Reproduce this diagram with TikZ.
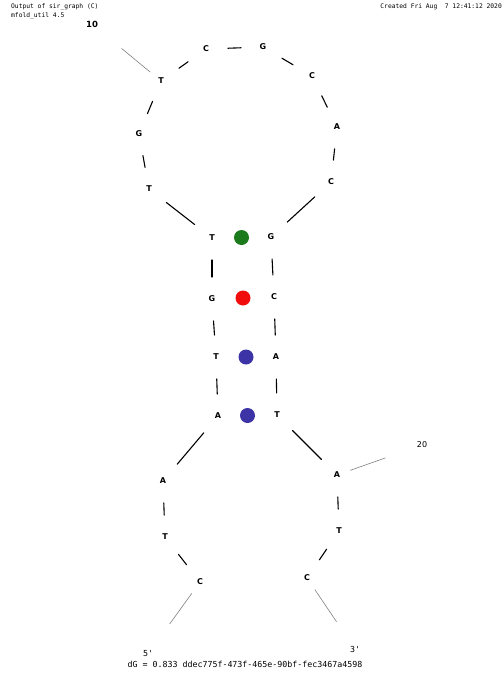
\documentclass[tikz,border=0pt]{standalone}
\usepackage{fontspec}
\setmainfont{DejaVu Sans}
\newfontfamily\monofont{DejaVu Sans Mono}
\usepackage{tikz}
\usepackage{tkz-euclide}
\usepackage{xcolor}
\usetikzlibrary{calc}

\definecolor{gtpair}{HTML}{1B7A1B}
\definecolor{gcpair}{HTML}{F20D0D}
\definecolor{atpair}{HTML}{3C33A6}

\begin{document}
\begin{tikzpicture}[x=1pt,y=-1pt,
    base/.style={font=\fontsize{8}{9}\selectfont\bfseries,inner sep=0pt},
    pairdot/.style={circle,minimum size=15pt,inner sep=0pt},
    tick/.style={gray,line width=0.6pt,shorten <=14pt,shorten >=33pt},
    ticklabel/.style={font=\fontsize{8}{9}\selectfont,inner sep=0pt},
    endlabel/.style={font=\monofont\fontsize{8.3}{9}\selectfont,inner sep=0pt},
    head/.style={font=\monofont\fontsize{6.3}{7}\selectfont,inner sep=0pt}]
    \useasboundingbox (0,0) rectangle (503,683);
    \tkzDefPoints{200/582/n1,165/537/n2,163/481/n3,218/416/n4,216/357/n5,
      212/299/n6,212/238/n7,149/189/n8,139/134/n9,161/81/n10,206/49/n11,
      263/47/n12,312/76/n13,337/127/n14,331/182/n15,271/237/n16,274/297/n17,
      276/357/n18,277/415/n19,337/475/n20,339/531/n21,307/578/n22}
    % backbone
    \tkzDrawSegments[black,line width=1.1pt,shorten <=22pt,shorten >=22pt](n1,n2 n2,n3 n3,n4 n4,n5 n5,n6 n6,n7 n7,n8 n8,n9 n9,n10 n10,n11 n11,n12)
    \tkzDrawSegments[black,line width=1.1pt,shorten <=22pt,shorten >=22pt](n12,n13 n13,n14 n14,n15 n15,n16 n16,n17 n17,n18 n18,n19 n19,n20 n20,n21 n21,n22)
    \foreach \i/\b in {1/C,2/T,3/A,4/A,5/T,6/G,7/T,8/T,9/G,10/T,11/C,
      12/G,13/C,14/A,15/C,16/G,17/C,18/A,19/T,20/A,21/T,22/C}
      \node[base] (b\i) at (n\i) {\b};
    % base pairs
    \node[pairdot,fill=gtpair] (bp7) at ($(n7)!0.5!(n16)$) {};
    \node[pairdot,fill=gcpair] (bp6) at ($(n6)!0.5!(n17)$) {};
    \node[pairdot,fill=atpair] (bp5) at ($(n5)!0.5!(n18)$) {};
    \node[pairdot,fill=atpair] (bp4) at ($(n4)!0.5!(n19)$) {};
    % numbering and ends
    \node[ticklabel,font=\fontsize{8.5}{9}\selectfont\bfseries] (lab10) at (92,24) {10};
    \node[ticklabel] (lab20) at (422,445) {20};
    \node[endlabel] (lab5) at (148,654) {5'};
    \node[endlabel] (lab3) at (355,649) {3'};
    \draw[tick] (n10) -- (lab10);
    \draw[tick] (n20) -- (lab20);
    \draw[tick] (n1) -- (lab5);
    \draw[tick,shorten >=29pt] (n22) -- (lab3);
    \node[endlabel] (energy) at (245,664) {dG = 0.833 ddec775f-473f-465e-90bf-fec3467a4598};
    \node[head,anchor=west] (hdr1) at (11,7) {Output of sir\_graph (C)};
    \node[head,anchor=west] (hdr2) at (11,15.5) {mfold\_util 4.5};
    \node[head,anchor=east] (hdr3) at (502,7) {Created Fri Aug\ \ 7 12:41:12 2020};
\end{tikzpicture}
\end{document}
